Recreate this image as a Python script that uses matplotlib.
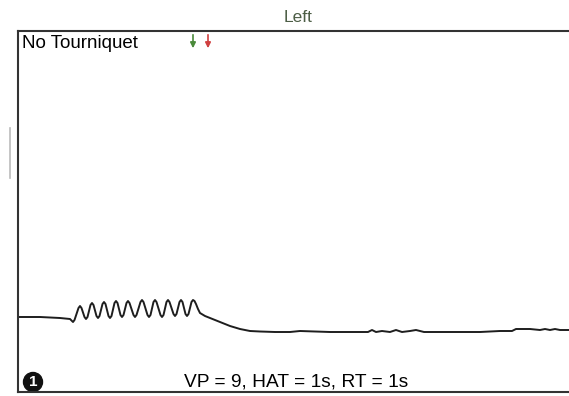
import matplotlib
matplotlib.use("Agg")
import matplotlib.pyplot as plt
from matplotlib.patches import Circle

plt.rcParams['font.family'] = ['Liberation Sans', 'DejaVu Sans']

# trace: x = time (px units from left frame), y = height above bottom frame
trace_x = [0, 22, 42, 52, 55,
           56.5, 58.5, 60.5, 62, 63.5, 65, 66.5, 68,
           69.5, 71, 72.5, 74, 75.5, 77, 78.5, 80,
           81.5, 83, 84.5, 86, 87.5, 89, 90.5, 92,
           93.5, 95, 96.5, 98, 99.5, 101, 102.5, 104,
           105.5, 107, 108.5, 110, 111.5, 113.5, 115.5, 117,
           118.5, 120.5, 122.5, 124, 125.5, 127.5, 129.5, 131,
           132.5, 134, 135.5, 137, 138.5, 140.5, 142.5, 144,
           145.5, 147, 148.5, 150, 151.5, 153.5, 155.5, 157,
           158.5, 160, 161.5, 163, 164.5, 166, 167.5, 169,
           170.5, 172, 173.5, 175, 176.5, 178, 180, 182,
           187, 192, 202, 212, 222, 232, 242, 257, 272, 282, 312, 332,
           350, 354, 358, 364, 372, 378, 384, 392, 398, 406, 414, 432, 462, 482, 494,
           498, 512, 522, 527, 532, 537, 542, 551]
trace_y = [75, 75, 74, 73, 70,
           72, 78, 84, 86, 84, 79.5, 75, 73,
           75, 81, 87, 89, 87, 81.5, 76, 74,
           76, 82, 88, 90, 88, 82, 76, 74,
           76, 82.5, 89, 91, 89, 83, 77, 75,
           77, 83, 89, 91, 89, 83, 77, 75,
           77, 83.5, 90, 92, 90, 83.5, 77, 75,
           77, 83.5, 90, 92, 90, 83.5, 77, 75,
           77, 83.5, 90, 92, 90, 84, 78, 76,
           78, 84, 90, 92, 90, 84, 78, 76,
           78, 84, 90, 92, 91, 88, 83, 79,
           76, 74, 70, 66, 63, 61, 60.5, 60, 60, 61, 60, 60,
           60, 62, 60, 61, 60, 62, 60, 61, 62, 60, 60, 60, 60, 61, 61,
           63, 63, 62, 63, 62, 63, 62, 62]

title = "Left"
label_tl = "No Tourniquet"
label_bottom = "VP = 9, HAT = 1s, RT = 1s"
marker_x = [175, 190]
marker_colors = ['#4a8a3a', '#d04040']

fig = plt.figure(figsize=(5.69, 3.96), dpi=100)
fig.text(298/569, 1-17/396, title, color='#4d5e46', fontsize=12.5, ha='center', va='center')

ax = fig.add_axes([18/569, 4/396, 560/569, 361/396])
ax.set_xlim(0, 560)
ax.set_ylim(0, 361)
ax.plot(trace_x, trace_y, color='#1e1e1e', lw=1.4, solid_joinstyle='round')

for s in ['left', 'top', 'bottom']:
    ax.spines[s].set_color('#333333')
    ax.spines[s].set_linewidth(1.5)
ax.spines['right'].set_visible(False)
ax.set_xticks([])
ax.set_yticks([])

ax.text(4, 349, label_tl, fontsize=13.5, ha='left', va='center')
ax.text(278, 10, label_bottom, fontsize=13.8, ha='center', va='center')

ax.add_patch(Circle((15, 10), 9.5, color='#111111'))
ax.text(15, 10, "1", color='white', fontsize=11, fontweight='bold', ha='center', va='center')

for mx, c in zip(marker_x, marker_colors):
    ax.annotate('', xy=(mx, 341), xytext=(mx, 360),
                arrowprops=dict(arrowstyle='-|>', color=c, lw=1.2, mutation_scale=8))

# faint scan marks outside the frame
fig.add_artist(plt.Line2D([10/569, 10/569], [1-128/396, 1-178/396], color='#bbbbbb', lw=1.2))

fig.savefig('out.png', dpi=100)
